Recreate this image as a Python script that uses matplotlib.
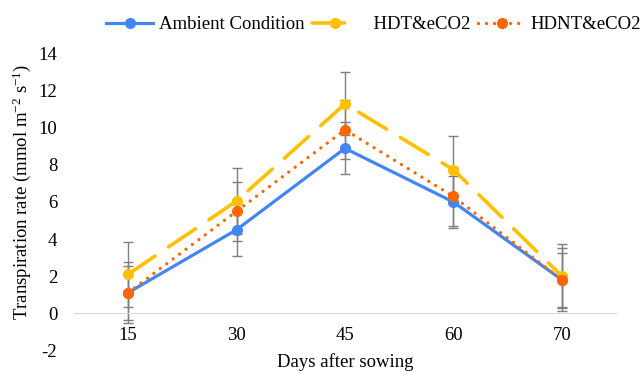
import matplotlib
matplotlib.use('Agg')
import matplotlib.pyplot as plt
import numpy as np

# --- data ---
days = ['15', '30', '45', '60', '70']
ambient = [1.1, 4.5, 8.9, 6.0, 1.8]
ambient_err = [1.65, 1.4, 1.4, 1.4, 1.45]
hdt = [2.1, 6.05, 11.3, 7.75, 2.0]
hdt_err = [1.75, 1.8, 1.7, 1.8, 1.75]
hdnt = [1.1, 5.5, 9.9, 6.3, 1.8]
hdnt_err = [1.45, 1.6, 1.6, 1.6, 1.7]

font_size = 13.5
plt.rcParams['font.family'] = 'Liberation Serif'
plt.rcParams['mathtext.fontset'] = 'custom'
plt.rcParams['mathtext.rm'] = 'Liberation Serif'
plt.rcParams['mathtext.it'] = 'Liberation Serif:italic'
plt.rcParams['axes.unicode_minus'] = False

fig = plt.figure(figsize=(6.43, 3.72), dpi=100)
ax = fig.add_axes([0.115, 0.059, 0.843, 0.796])

x = np.arange(len(days))
err_kw = dict(fmt='none', ecolor='#7f7f7f', elinewidth=1, capsize=3.5, capthick=1, zorder=1)
ax.errorbar(x, ambient, yerr=ambient_err, **err_kw)
ax.errorbar(x, hdt, yerr=hdt_err, **err_kw)
ax.errorbar(x, hdnt, yerr=hdnt_err, **err_kw)

ax.plot(x, ambient, color='#4285F4', lw=2.3, marker='o', ms=7, zorder=3,
        label='Ambient Condition')
ax.plot(x, hdt, color='#FFC000', lw=2.6, marker='o', ms=7, zorder=4,
        dashes=(9, 4.5), dash_capstyle='round', label='  HDT&eCO2')
ax.plot(x, hdnt, color='#FF6600', lw=2.4, marker='o', ms=7, zorder=5,
        dashes=(0.01, 2.4), dash_capstyle='round', label='HDNT&eCO2')

ax.set_xlim(-0.5, 4.5)
ax.set_ylim(-2, 14)
ax.set_yticks(np.arange(-2, 15, 2))
ax.set_xticks(x)
ax.set_xticklabels(days)

for s in ['top', 'right', 'left']:
    ax.spines[s].set_visible(False)
ax.spines['bottom'].set_position(('data', 0))
ax.spines['bottom'].set_color('#d9d9d9')
ax.tick_params(axis='both', length=0, labelsize=font_size)
ax.tick_params(axis='x', pad=10)
ax.tick_params(axis='y', pad=12)

fig.text(0.034, 0.484, 'Transpiration rate (mmol m$^{-2}$ s$^{-1}$)', rotation=90,
         ha='center', va='center', fontsize=font_size)
fig.text(0.537, 0.027, 'Days after sowing', ha='center', va='center', fontsize=font_size)

ax.legend(loc='center', bbox_to_anchor=(0.553, 1.098), ncol=3, frameon=False,
          fontsize=font_size, handlelength=2.5, columnspacing=0.4, handletextpad=0.3,
          borderpad=0.1)

fig.savefig('out.png', dpi=100)
